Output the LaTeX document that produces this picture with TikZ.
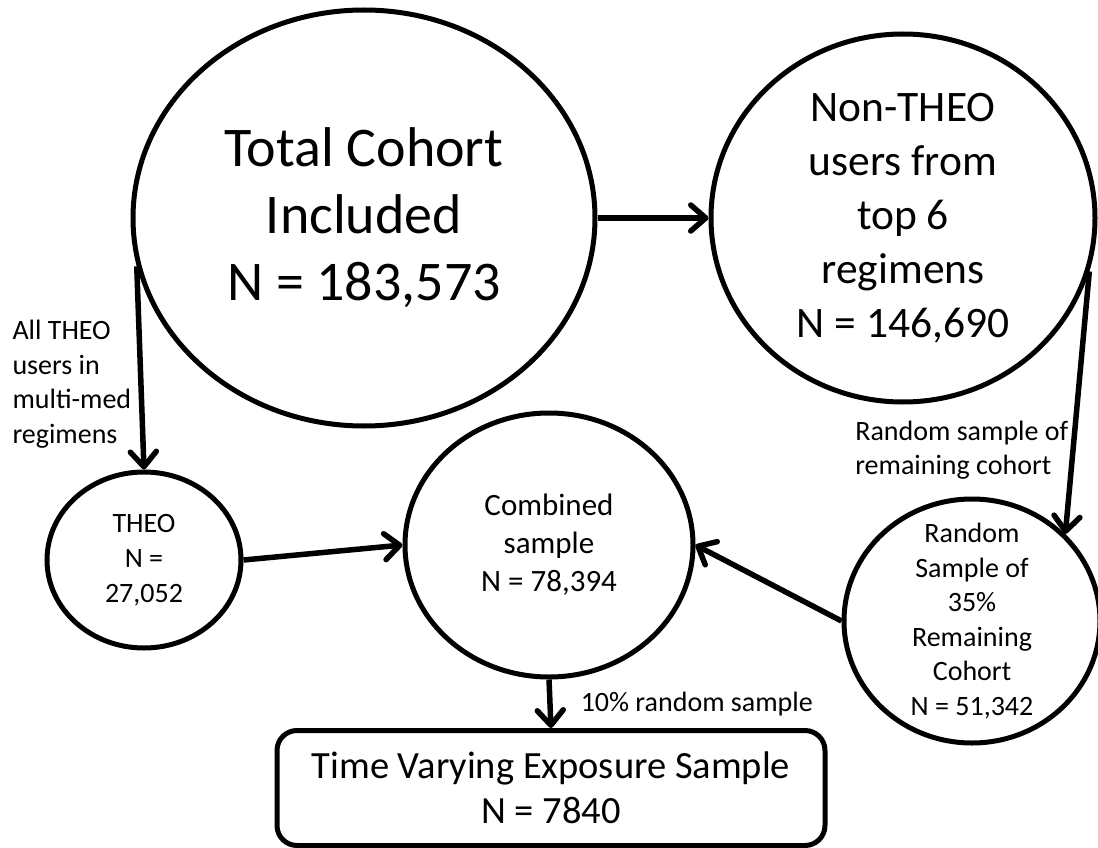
\documentclass[tikz,border=0pt]{standalone}
\usepackage{fontspec}
\setmainfont{Carlito}
\usetikzlibrary{arrows.meta, shapes.geometric}

\begin{document}
\begin{tikzpicture}[x=1pt, y=-1pt,
    main/.style = {draw, ellipse, line width=5pt, inner sep=-40pt, align=center},
    lbl/.style = {font=\fontsize{28}{34.5}\selectfont, align=left, inner sep=2pt},
    arr/.style = {line width=5.5pt, -{Straight Barb[length=15pt,width=26pt,round]}}]
            \useasboundingbox (0,0) rectangle (1098,848);

            \node[main, minimum width=462pt, minimum height=416pt, font=\fontsize{56}{67}\selectfont] (total) at (364,218) {Total Cohort\\Included\\N = 183,573};
            \node[main, minimum width=384pt, minimum height=368pt, font=\fontsize{43.5}{54}\selectfont] (nontheo) at (903,218) {Non-THEO\\users from\\top 6\\regimens\\N = 146,690};

            \path[arr] (total) edge (nontheo);

            \node[main, minimum width=194pt, minimum height=176pt, font=\fontsize{28}{35}\selectfont] (theo) at (144,560) {THEO\\N =\\27,052};
            \node[main, minimum width=288pt, minimum height=264pt, font=\fontsize{31}{38}\selectfont] (comb) at (549,545) {Combined\\sample\\N = 78,394};
            \node[main, minimum width=256pt, minimum height=244pt, font=\fontsize{28}{34.6}\selectfont] (rand) at (972,621) {Random\\Sample of\\35\%\\Remaining\\Cohort\\N = 51,342};

            \path[arr] (total.192) edge node[lbl, left, pos=0.58, xshift=-5pt] {All THEO\\users in\\multi-med\\regimens} (theo.north);
            \path[arr] (nontheo.-16) edge node[lbl, left, pos=0.68] {Random sample of\\remaining cohort} (rand.43);

            \path[arr] (theo.east) edge (comb.west);
            \path[arr] (rand.west) edge (comb.east);

            \node[draw, rounded corners=20pt, line width=5pt, minimum width=548pt, minimum height=115pt, align=center, font=\fontsize{38.5}{45}\selectfont] (tves) at (551,788) {Time Varying Exposure Sample\\N = 7840};

            \path[arr] (comb.south) edge node[lbl, right, xshift=26pt] {10\% random sample} (tves.north);
        \end{tikzpicture}
\end{document}
